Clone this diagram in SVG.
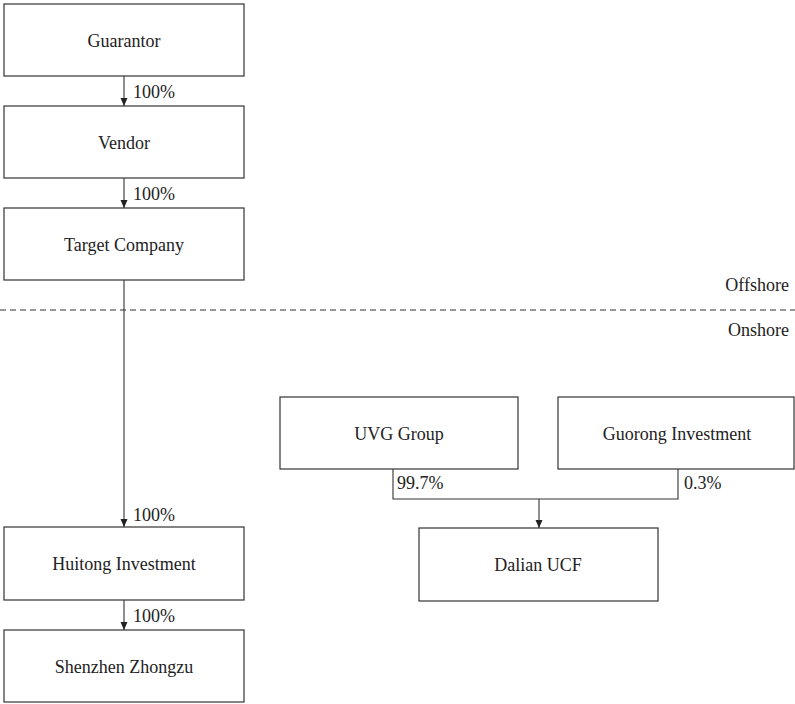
<svg xmlns="http://www.w3.org/2000/svg" width="795" height="704" viewBox="0 0 795 704">
<defs>
<marker id="arr" markerWidth="8" markerHeight="9" refX="8" refY="4.5" orient="auto" markerUnits="userSpaceOnUse">
<path d="M0,1 L8,4.5 L0,8 Z" fill="#222"/>
</marker>
</defs>
<rect width="795" height="704" fill="#fff"/>
<g id="connectors" fill="none" stroke="#333" stroke-width="1.1">
<line marker-end="url(#arr)" x1="124" y1="76" x2="124" y2="106"/>
<line marker-end="url(#arr)" x1="124" y1="178" x2="124" y2="208"/>
<line marker-end="url(#arr)" x1="124" y1="280" x2="124" y2="527"/>
<line marker-end="url(#arr)" x1="124" y1="600" x2="124" y2="630"/>
<polyline points="393,469 393,499 678,499 678,469"/>
<line marker-end="url(#arr)" x1="539" y1="499" x2="539" y2="528"/>
<line x1="0" y1="310" x2="795" y2="310" stroke-dasharray="6,4"/>
</g>
<g id="labels" fill="#222">
<text x="133" y="98" font-family="Liberation Serif" font-size="18">100%</text>
<text x="133" y="200" font-family="Liberation Serif" font-size="18">100%</text>
<text x="133" y="521" font-family="Liberation Serif" font-size="18">100%</text>
<text x="133" y="622" font-family="Liberation Serif" font-size="18">100%</text>
<text x="397" y="489" font-family="Liberation Serif" font-size="18">99.7%</text>
<text x="684" y="489" font-family="Liberation Serif" font-size="18">0.3%</text>
<text id="offshore" x="789" y="291" text-anchor="end" font-family="Liberation Serif" font-size="18">Offshore</text>
<text id="onshore" x="789" y="336" text-anchor="end" font-family="Liberation Serif" font-size="18">Onshore</text>
</g>
<g id="nodes" fill="#222" text-anchor="middle">
<g id="guarantor"><rect x="4" y="4" width="240" height="72" fill="#fff" stroke="#333" stroke-width="1.2"/><text x="124" y="47" font-family="Liberation Serif" font-size="18">Guarantor</text></g>
<g id="vendor"><rect x="4" y="106" width="240" height="72" fill="#fff" stroke="#333" stroke-width="1.2"/><text x="124" y="149" font-family="Liberation Serif" font-size="18">Vendor</text></g>
<g id="target"><rect x="4" y="208" width="240" height="72" fill="#fff" stroke="#333" stroke-width="1.2"/><text x="124" y="251" font-family="Liberation Serif" font-size="18">Target Company</text></g>
<g id="huitong"><rect x="4" y="527" width="240" height="73" fill="#fff" stroke="#333" stroke-width="1.2"/><text x="124" y="570" font-family="Liberation Serif" font-size="18">Huitong Investment</text></g>
<g id="shenzhen"><rect x="4" y="630" width="240" height="72" fill="#fff" stroke="#333" stroke-width="1.2"/><text x="124" y="673" font-family="Liberation Serif" font-size="18">Shenzhen Zhongzu</text></g>
<g id="uvg"><rect x="280" y="397" width="238" height="72" fill="#fff" stroke="#333" stroke-width="1.2"/><text x="399" y="440" font-family="Liberation Serif" font-size="18">UVG Group</text></g>
<g id="guorong"><rect x="558" y="397" width="236" height="72" fill="#fff" stroke="#333" stroke-width="1.2"/><text x="677" y="440" font-family="Liberation Serif" font-size="18">Guorong Investment</text></g>
<g id="dalian"><rect x="419" y="528" width="239" height="73" fill="#fff" stroke="#333" stroke-width="1.2"/><text x="538" y="571" font-family="Liberation Serif" font-size="18">Dalian UCF</text></g>
</g>
</svg>
